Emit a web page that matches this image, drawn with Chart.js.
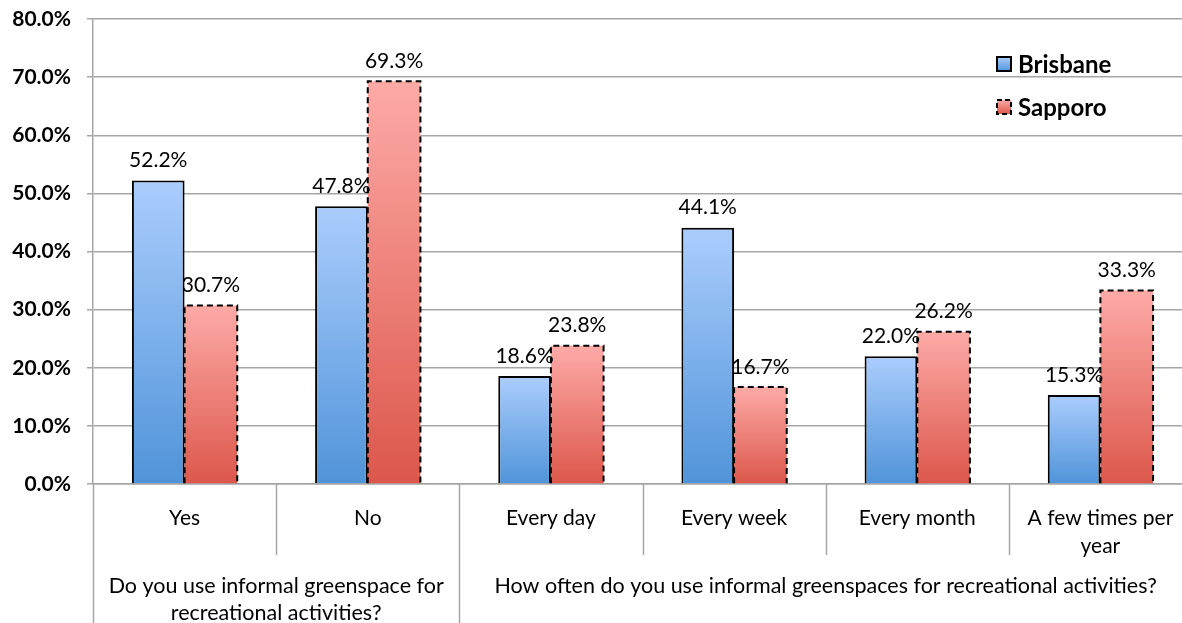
<!DOCTYPE html>
<html>
<head>
<meta charset="utf-8">
<script src="https://cdn.jsdelivr.net/npm/chart.js@4.4.1/dist/chart.umd.min.js"></script>
<style>
  html, body { margin: 0; padding: 0; background: #fff; overflow: hidden; }
  #wrap { position: relative; width: 1192px; height: 623px; }
</style>
</head>
<body>
<div id="wrap"><canvas id="myChart"></canvas></div>
<script>
// Categorías y valores (%)
const categories = ['Yes', 'No', 'Every day', 'Every week', 'Every month', ['A few times per', 'year']];
const brisbane = [52.2, 47.8, 18.6, 44.1, 22.0, 15.3];
const sapporo = [30.7, 69.3, 23.8, 16.7, 26.2, 33.3];
const seriesNames = ['Brisbane', 'Sapporo'];
const groups = [
    { lines: ['Do you use informal greenspace for', 'recreational activities?'], from: 0, to: 1 },
    { lines: ['How often do you use informal greenspaces for recreational activities?'], from: 2, to: 5 }
];
const yTicks = [0, 10, 20, 30, 40, 50, 60, 70, 80];

const FONT = "Lato, 'Open Sans', sans-serif";
const GRID = '#a6a6a6';

// Degradado vertical por barra (claro arriba, oscuro abajo)
function barGradient(top, bottom) {
    return function (context) {
        const chart = context.chart;
        if (!chart.chartArea || context.type !== 'data') return bottom;
        const y = chart.scales.y;
        const v = context.raw;
        const y0 = y.getPixelForValue(v);
        const y1 = y.getPixelForValue(0);
        const g = chart.ctx.createLinearGradient(0, y0, 0, y1);
        g.addColorStop(0, top);
        g.addColorStop(1, bottom);
        return g;
    };
}

// Etiquetas de valor, bordes discontinuos, leyenda y grupos del eje X
const extras = {
    id: 'extras',
    afterDatasetsDraw(chart) {
        const ctx = chart.ctx;
        ctx.save();
        // borde discontinuo de Sapporo
        const meta1 = chart.getDatasetMeta(1);
        ctx.strokeStyle = '#000';
        ctx.lineWidth = 2;
        ctx.setLineDash([6, 4]);
        meta1.data.forEach(bar => {
            const l = bar.x - bar.width / 2, r = bar.x + bar.width / 2;
            ctx.beginPath();
            ctx.moveTo(l, bar.base);
            ctx.lineTo(l, bar.y);
            ctx.lineTo(r, bar.y);
            ctx.lineTo(r, bar.base);
            ctx.stroke();
        });
        ctx.setLineDash([]);

        // valores encima de las barras
        ctx.fillStyle = '#000';
        ctx.font = '21px ' + FONT;
        ctx.textAlign = 'center';
        ctx.textBaseline = 'middle';
        chart.data.datasets.forEach((ds, i) => {
            chart.getDatasetMeta(i).data.forEach((bar, j) => {
                ctx.fillText(ds.data[j].toFixed(1) + '%', bar.x, bar.y - 20);
            });
        });

        // leyenda
        const lx = 997, ly = [57, 100];
        chart.data.datasets.forEach((ds, i) => {
            const g = ctx.createLinearGradient(0, ly[i], 0, ly[i] + 14);
            g.addColorStop(0, i === 0 ? '#abcdfd' : '#fdaaa7');
            g.addColorStop(1, i === 0 ? '#5094d9' : '#dc574b');
            ctx.fillStyle = g;
            ctx.fillRect(lx, ly[i], 14, 14);
            ctx.strokeStyle = '#000';
            ctx.lineWidth = 2;
            ctx.setLineDash(i === 0 ? [] : [5, 3]);
            ctx.strokeRect(lx, ly[i], 14, 14);
            ctx.setLineDash([]);
            ctx.fillStyle = '#000';
            ctx.font = 'bold 24px ' + FONT;
            ctx.textAlign = 'left';
            ctx.textBaseline = 'middle';
            ctx.fillText(ds.label, lx + 21, ly[i] + 8);
        });
        ctx.restore();
    },
    afterDraw(chart) {
        const ctx = chart.ctx;
        const x = chart.scales.x;
        const area = chart.chartArea;
        const step = x.getPixelForValue(1) - x.getPixelForValue(0);
        ctx.save();
        ctx.strokeStyle = GRID;
        ctx.lineWidth = 1.5;
        // separadores entre categorías
        for (let i = 1; i < categories.length; i++) {
            const px = Math.round(x.getPixelForValue(i) - step / 2) + 0.5;
            const isGroup = groups.some(g => g.from === i);
            ctx.beginPath();
            ctx.moveTo(px, area.bottom);
            ctx.lineTo(px, isGroup ? chart.height : area.bottom + 71);
            ctx.stroke();
        }
        // línea izquierda hasta abajo
        ctx.beginPath();
        ctx.moveTo(area.left + 0.5, area.bottom);
        ctx.lineTo(area.left + 0.5, chart.height);
        ctx.stroke();

        // etiquetas de grupo
        ctx.fillStyle = '#000';
        ctx.font = '21.5px ' + FONT;
        ctx.textAlign = 'center';
        ctx.textBaseline = 'middle';
        groups.forEach(g => {
            const left = x.getPixelForValue(g.from) - step / 2;
            const right = x.getPixelForValue(g.to) + step / 2;
            const cx = (left + right) / 2;
            g.lines.forEach((t, k) => ctx.fillText(t, cx, 586 + k * 27));
        });
        ctx.restore();
    }
};

const ctx = document.getElementById('myChart').getContext('2d');

new Chart(ctx, {
    type: 'bar',
    data: {
        labels: categories,
        datasets: [{
            label: seriesNames[0],
            data: brisbane,
            backgroundColor: barGradient('#abcdfd', '#5094d9'),
            borderColor: '#000',
            borderWidth: { top: 2, left: 2, right: 2, bottom: 0 },
            borderSkipped: 'bottom',
            categoryPercentage: 0.575,
            barPercentage: 1.0
        }, {
            label: seriesNames[1],
            data: sapporo,
            backgroundColor: barGradient('#fdaaa7', '#dc574b'),
            borderWidth: 0,
            categoryPercentage: 0.575,
            barPercentage: 1.0
        }]
    },
    options: {
        responsive: true,
        maintainAspectRatio: false,
        animation: false,
        layout: { padding: { top: 19, left: 0, right: 0, bottom: 0 } },
        plugins: {
            legend: { display: false },
            tooltip: { enabled: false }
        },
        scales: {
            y: {
                min: 0,
                max: 80,
                afterBuildTicks: (s) => { s.ticks = yTicks.map(v => ({ value: v })); },
                afterFit: (s) => {
                    s.width = 93;
                    s.paddingTop = 0;
                    s.paddingBottom = 0;
                },
                ticks: {
                    callback: (v) => v.toFixed(1) + '%',
                    font: { size: 21, weight: 'bold', family: FONT },
                    color: '#000',
                    padding: 16
                },
                grid: {
                    color: GRID,
                    lineWidth: 1.5,
                    tickLength: 6
                },
                border: { color: GRID, width: 1.5 }
            },
            x: {
                afterFit: (s) => { s.height = 139; },
                ticks: {
                    font: { size: 21, family: FONT, lineHeight: 1.33 },
                    color: '#000',
                    padding: 12,
                    maxRotation: 0,
                    autoSkip: false
                },
                grid: { display: false },
                border: { color: GRID, width: 1.5 }
            }
        }
    },
    plugins: [extras]
});
</script>
</body>
</html>
